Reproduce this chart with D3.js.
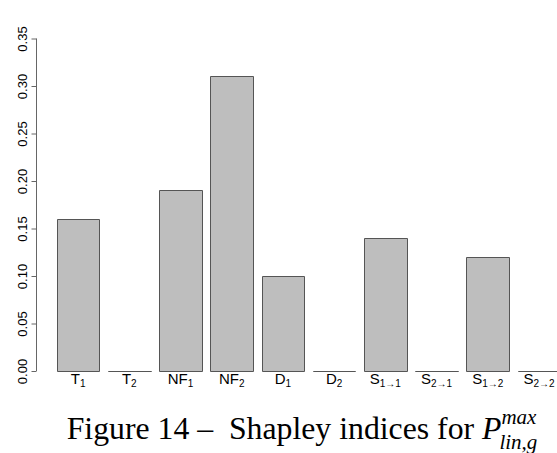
<!DOCTYPE html>
<html>
<head>
<meta charset="utf-8">
<script src="https://cdn.jsdelivr.net/npm/d3@7"></script>
<style>
  body { margin: 0; background: #fff; }
  svg { display: block; }
</style>
</head>
<body>
<script>
/* Data */

var categories = ["T1", "T2", "NF1", "NF2", "D1", "D2", "S11", "S21", "S12", "S22"];
var labelMain = ["T", "T", "NF", "NF", "D", "D", "S", "S", "S", "S"];
var labelSub = ["1", "2", "1", "2", "1", "2", "1\u21921", "2\u21921", "1\u21922", "2\u21922"];
var values = [0.16, 0, 0.19, 0.31, 0.10, 0, 0.14, 0, 0.12, 0];
var yTicks = [0, 0.05, 0.10, 0.15, 0.20, 0.25, 0.30, 0.35];


/* Canvas */

var width = 557;
var height = 453;

var svg = d3.select("body").append("svg")
	.attr("width", width)
	.attr("height", height);

var x = d3.scaleBand()
	.domain(categories)
	.range([48.2, 568.9])
	.padding(1/6);

var y = d3.scaleLinear()
	.domain([0, 0.35])
	.range([371, 38.5]);

// bars as paths, so zero values still show as a flat line
svg.append("g")
	.selectAll("path")
	.data(values)
	.enter().append("path")
		.attr("d", function(d, i) {
			var x0 = Math.round(x(categories[i])) + 0.5;
			var x1 = Math.round(x(categories[i]) + x.bandwidth()) + 0.5;
			var y0 = Math.round(y(0)) + 0.5;
			var y1 = Math.round(y(d)) + 0.5;
			return "M" + x0 + "," + y0 + "V" + y1 + "H" + x1 + "V" + y0 + "Z";
		})
		.attr("fill", "#bebebe")
		.attr("stroke", "#555")
		.attr("stroke-width", 1);

// y axis
var yAxis = svg.append("g")
	.attr("transform", "translate(36.5,0)")
	.call(d3.axisLeft(y).tickValues(yTicks).tickFormat(d3.format(".2f")).tickSize(5).tickPadding(0));

yAxis.select(".domain").attr("stroke", "#666").attr("d", "M0," + y(0) + "V" + y(0.35));
yAxis.selectAll(".tick line").attr("stroke", "#666");
yAxis.selectAll(".tick text")
	.attr("x", null).attr("dy", null)
	.attr("transform", "translate(-10,0) rotate(-90)")
	.attr("text-anchor", "middle")
	.attr("fill", "#000")
	.style("font-family", "'Liberation Sans', Arial, sans-serif")
	.style("font-size", "13px");

// x labels
var xl = svg.append("g")
	.selectAll("text")
	.data(categories)
	.enter().append("text")
		.attr("x", function(d) { return x(d) + x.bandwidth()/2; })
		.attr("y", 384)
		.attr("text-anchor", "middle")
		.style("font-family", "'Liberation Sans', Arial, sans-serif")
		.style("font-size", "15px");

xl.append("tspan").text(function(d, i) { return labelMain[i]; });
xl.append("tspan")
	.attr("dy", 3)
	.style("font-size", "10px")
	.text(function(d, i) { return labelSub[i]; });

// caption
var capX = 66.7;
var cap = svg.append("text")
	.attr("x", capX)
	.attr("y", 439)
	.style("font-family", "'Liberation Serif', 'Times New Roman', serif")
	.style("font-size", "31.75px")
	.attr("fill", "#000");

cap.append("tspan").text("Figure 14 \u2013\u00a0\u00a0Shapley indices for ");
cap.append("tspan").style("font-style", "italic").text("P");

var capEnd = capX + cap.node().getComputedTextLength();

svg.append("text")
	.attr("x", capEnd)
	.attr("y", 424)
	.style("font-family", "'Liberation Serif', 'Times New Roman', serif")
	.style("font-style", "italic")
	.style("font-size", "21px")
	.text("max");

svg.append("text")
	.attr("x", capEnd - 2)
	.attr("y", 449)
	.style("font-family", "'Liberation Serif', 'Times New Roman', serif")
	.style("font-style", "italic")
	.style("font-size", "21px")
	.text("lin,g");
</script>
</body>
</html>
